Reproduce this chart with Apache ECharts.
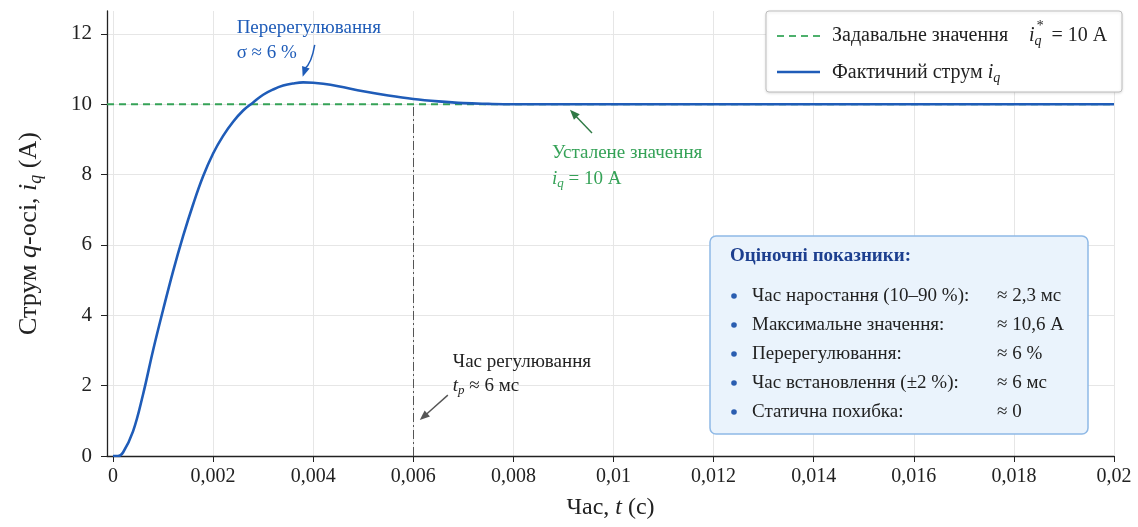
<!DOCTYPE html>
<html><head><meta charset="utf-8">
<script src="https://cdn.jsdelivr.net/npm/echarts@6/dist/echarts.min.js"></script>
<style>html,body{margin:0;padding:0;background:#fff}#c{width:1138px;height:527px}</style>
</head><body><div id="c"></div><script>
// ---- data ----
const timeS = [0, 0.0001, 0.0002, 0.0004, 0.0006, 0.0008, 0.001, 0.0012, 0.0014, 0.0016, 0.0018, 0.002, 0.0022, 0.0024, 0.0026, 0.0028, 0.003, 0.0032, 0.0034, 0.0036, 0.0038, 0.004, 0.0042, 0.0045, 0.005, 0.0055, 0.006, 0.0065, 0.007, 0.0075, 0.008, 0.009, 0.01, 0.012, 0.014, 0.016, 0.018, 0.02];
const currentA = [0, 0.0, 0.1, 0.7, 1.75, 3.0, 4.15, 5.25, 6.25, 7.15, 7.95, 8.6, 9.1, 9.5, 9.82, 10.05, 10.27, 10.42, 10.53, 10.59, 10.62, 10.61, 10.58, 10.51, 10.37, 10.25, 10.15, 10.08, 10.03, 10.01, 10.0, 10.0, 10.0, 10.0, 10.0, 10.0, 10.0, 10.0];
const setpointA = 10;
const settleTime = 0.006;
const xTicks = [0, 0.002, 0.004, 0.006, 0.008, 0.01, 0.012, 0.014, 0.016, 0.018, 0.02];
const yTicks = [0, 2, 4, 6, 8, 10, 12];
const xRange = [-0.00012, 0.02];
const yRange = [0, 12.65];
const metricLabels = ['Час наростання (10–90 %):', 'Максимальне значення:', 'Перерегулювання:', 'Час встановлення (±2 %):', 'Статична похибка:'];
const metricValues = ['≈ 2,3 мс', '≈ 10,6 А', '≈ 6 %', '≈ 6 мс', '≈ 0'];
// annotation anchors in data coordinates
const overshootText = [0.00247, 12.17];
const overshootArrow = [[0.00403, 11.69], [0.00379, 10.78]];
const steadyText = [0.00877, 8.62];
const steadyArrow = [[0.00957, 9.18], [0.00913, 9.84]];
const settleText = [0.00679, 2.67];
const settleArrow = [[0.00669, 1.73], [0.00613, 1.02]];

const FF = '"Liberation Serif", "DejaVu Serif", serif';
const BLUE = '#1f5cb8';
const GREEN = '#35a257';
const fmt = v => (v === 0 ? '0' : String(+v.toFixed(4)).replace('.', ','));

const chart = echarts.init(document.getElementById('c'));
const rich = (size, color) => ({
  n: {fontFamily: FF, fontSize: size, color},
  i: {fontFamily: FF, fontSize: size, color, fontStyle: 'italic'},
  s: {fontFamily: FF, fontSize: Math.round(size * 0.68), color, fontStyle: 'italic', padding: [Math.round(size * 0.55), 0, 0, 0]}
});

chart.setOption({
  animation: false,
  grid: {left: 107, right: 24, top: 11, bottom: 71},
  xAxis: {
    type: 'value', min: xRange[0], max: xRange[1],
    name: '{n|Час, }{i|t}{n| (с)}', nameLocation: 'middle', nameGap: 40,
    nameTextStyle: {rich: rich(24, '#222')},
    axisLine: {onZero: false, lineStyle: {color: '#222', width: 1.3}},
    axisTick: {customValues: xTicks, length: 6, lineStyle: {color: '#222'}},
    axisLabel: {customValues: xTicks, formatter: fmt, fontFamily: FF, fontSize: 20, color: '#222', margin: 11},
    splitLine: {show: true, lineStyle: {color: '#e6e6e6'}}
  },
  yAxis: {
    type: 'value', min: yRange[0], max: yRange[1],
    name: '{n|Струм }{i|q}{n|-осі, }{i|i}{s|q}{n| (А)}', nameLocation: 'middle', nameGap: 62, nameRotate: 90,
    nameTextStyle: {rich: rich(26, '#222')},
    axisLine: {show: true, onZero: false, lineStyle: {color: '#222', width: 1.3}},
    axisTick: {show: true, customValues: yTicks, length: 6, lineStyle: {color: '#222'}},
    axisLabel: {customValues: yTicks, fontFamily: FF, fontSize: 21, color: '#222', margin: 15},
    splitLine: {show: true, lineStyle: {color: '#e6e6e6'}}
  },
  series: [
    {
      name: 'setpoint', type: 'line', symbol: 'none', z: 2,
      data: [[xRange[0], setpointA], [xRange[1], setpointA]],
      lineStyle: {color: GREEN, width: 2, type: [7, 5]}
    },
    {
      name: 'actual', type: 'line', symbol: 'none', smooth: 0.4, z: 3,
      data: timeS.map((t, k) => [t, currentA[k]]),
      lineStyle: {color: BLUE, width: 2.6},
      markLine: {
        silent: true, symbol: 'none', label: {show: false}, z: 1,
        lineStyle: {color: '#555', width: 1, type: [9, 3, 2, 3]},
        data: [[{coord: [settleTime, 0]}, {coord: [settleTime, setpointA]}]]
      }
    }
  ]
});

const P = d => chart.convertToPixel({gridIndex: 0}, d);
function arrowHead(p, q, color) {
  const ang = Math.atan2(q[1] - p[1], q[0] - p[0]);
  const L = 10, W = 4;
  const bx = q[0] - L * Math.cos(ang), by = q[1] - L * Math.sin(ang);
  return {type: 'polygon', z: 20, silent: true,
    shape: {points: [q, [bx + W * Math.sin(ang), by - W * Math.cos(ang)], [bx - W * Math.sin(ang), by + W * Math.cos(ang)]]},
    style: {fill: color}};
}
function straightArrow(a, color) {
  const p = P(a[0]), q = P(a[1]);
  const ang = Math.atan2(q[1] - p[1], q[0] - p[0]);
  const q2 = [q[0] - 8 * Math.cos(ang), q[1] - 8 * Math.sin(ang)];
  return [
    {type: 'line', z: 20, silent: true, shape: {x1: p[0], y1: p[1], x2: q2[0], y2: q2[1]}, style: {stroke: color, lineWidth: 1.4}},
    arrowHead(p, q, color)
  ];
}
function txt(x, y, text, size, color, extra) {
  return Object.assign({type: 'text', z: 30, silent: true, x, y,
    style: Object.assign({text, fontFamily: FF, fontSize: size, fill: color, verticalAlign: 'middle', rich: rich(size, color)}, extra || {})});
}

const g = [];
// overshoot annotation
{
  const a = P(overshootText);
  g.push(txt(a[0], a[1], 'Перерегулювання', 19, BLUE));
  g.push(txt(a[0], a[1] + 25, 'σ ≈ 6 %', 19, BLUE));
  const p = P(overshootArrow[0]), q = P(overshootArrow[1]);
  const cp = [p[0] - 3, p[1] + 18];
  g.push({type: 'bezierCurve', z: 20, silent: true, shape: {x1: p[0], y1: p[1], x2: q[0] + 2, y2: q[1] - 8, cpx1: cp[0], cpy1: cp[1]}, style: {stroke: BLUE, lineWidth: 1.5, fill: null}});
  g.push(arrowHead([q[0] + 4, q[1] - 12], q, BLUE));
}
// steady annotation
{
  const a = P(steadyText);
  g.push(txt(a[0], a[1], 'Усталене значення', 19, GREEN));
  g.push(txt(a[0], a[1] + 26, '{i|i}{s|q}{n| = 10 А}', 19, GREEN));
  g.push(...straightArrow(steadyArrow, '#2f7a45'));
}
// settle annotation
{
  const a = P(settleText);
  g.push(txt(a[0], a[1], 'Час регулювання', 19, '#222'));
  g.push(txt(a[0], a[1] + 24, '{i|t}{s|p}{n| ≈ 6 мс}', 19, '#222'));
  g.push(...straightArrow(settleArrow, '#555'));
}
// legend
g.push({type: 'rect', z: 25, silent: true, shape: {x: 766, y: 11, width: 356, height: 81, r: 3},
  style: {fill: '#fff', stroke: '#bdbdbd', lineWidth: 1, shadowBlur: 3, shadowColor: 'rgba(0,0,0,0.12)', shadowOffsetY: 1}});
g.push({type: 'line', z: 26, silent: true, shape: {x1: 777, y1: 36, x2: 820, y2: 36}, style: {stroke: '#4db06c', lineWidth: 2, lineDash: [7, 5]}});
g.push(txt(832, 36, 'Задавальне значення', 20, '#222'));
g.push(txt(1029, 36, '{i|i}{s|q}{n|  = 10 А}', 20, '#222'));
g.push(txt(1036, 26, '*', 14, '#222', {fontStyle: 'italic'}));
g.push({type: 'line', z: 26, silent: true, shape: {x1: 777, y1: 72, x2: 820, y2: 72}, style: {stroke: BLUE, lineWidth: 2.4}});
g.push(txt(832, 73, '{n|Фактичний струм }{i|i}{s|q}', 20, '#222'));
// metrics box
g.push({type: 'rect', z: 25, silent: true, shape: {x: 710, y: 236, width: 378, height: 198, r: 6},
  style: {fill: '#eaf3fc', stroke: '#8fb9e6', lineWidth: 1.5}});
g.push(txt(730, 256, 'Оціночні показники:', 19, '#1d3f8f', {fontWeight: 'bold'}));
metricLabels.forEach((lab, k) => {
  const y = 296 + k * 29;
  g.push({type: 'circle', z: 26, silent: true, shape: {cx: 734, cy: y, r: 2.8}, style: {fill: '#2a5db0'}});
  g.push(txt(752, y, lab, 19, '#222'));
  g.push(txt(997, y, metricValues[k], 19, '#222'));
});
chart.setOption({graphic: g});
</script></body></html>
